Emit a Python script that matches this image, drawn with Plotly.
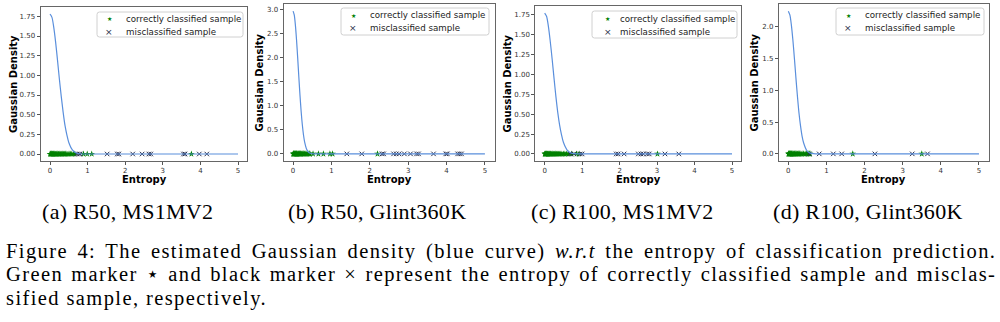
import plotly.graph_objects as go

# ---- Gaussian density curves (entropy -> density), one per model/dataset ----
curve_x_a = [0.0, 0.05, 0.1, 0.15, 0.2, 0.25, 0.3, 0.35, 0.4, 0.45, 0.5, 0.6, 0.7, 0.8, 1.0, 5.0]
curve_y_a = [1.78, 1.74, 1.61, 1.42, 1.19, 0.95, 0.73, 0.53, 0.36, 0.24, 0.147, 0.049, 0.0135, 0.003, 0.0, 0.0]

curve_x_b = [0.0, 0.03, 0.06, 0.09, 0.12, 0.15, 0.18, 0.21, 0.24, 0.27, 0.3, 0.36, 0.42, 0.5, 1.0, 5.0]
curve_y_b = [2.96, 2.88, 2.67, 2.36, 1.99, 1.59, 1.21, 0.88, 0.61, 0.40, 0.25, 0.084, 0.023, 0.003, 0.0, 0.0]

curve_x_c = [0.0, 0.05, 0.1, 0.15, 0.2, 0.25, 0.3, 0.35, 0.4, 0.45, 0.5, 0.6, 0.7, 0.8, 1.0, 5.0]
curve_y_c = [1.77, 1.73, 1.60, 1.41, 1.19, 0.95, 0.72, 0.52, 0.36, 0.24, 0.146, 0.049, 0.013, 0.003, 0.0, 0.0]

curve_x_d = [0.0, 0.04, 0.08, 0.12, 0.16, 0.2, 0.24, 0.28, 0.32, 0.36, 0.4, 0.48, 0.56, 0.65, 1.0, 5.0]
curve_y_d = [2.25, 2.19, 2.03, 1.79, 1.50, 1.19, 0.90, 0.64, 0.44, 0.28, 0.175, 0.057, 0.015, 0.003, 0.0, 0.0]

# ---- entropy of correctly classified samples ----
ok_a = [0.00, 0.01, 0.02, 0.03, 0.04, 0.05, 0.06, 0.07, 0.08, 0.09, 0.10, 0.12, 0.13, 0.15,
        0.16, 0.18, 0.19, 0.21, 0.23, 0.24, 0.26, 0.28, 0.30, 0.32, 0.34, 0.36, 0.38, 0.40,
        0.42, 0.45, 0.48, 0.51, 0.55, 0.58, 0.62, 0.66, 0.89, 0.99, 1.11, 3.76]
ok_b = [0.00, 0.01, 0.02, 0.03, 0.04, 0.05, 0.06, 0.07, 0.08, 0.09, 0.10, 0.11, 0.13, 0.14,
        0.16, 0.17, 0.19, 0.20, 0.22, 0.24, 0.26, 0.28, 0.30, 0.33, 0.36, 0.39, 0.42, 0.44,
        0.52, 0.66, 0.79, 0.96, 1.03, 2.20]
ok_c = [0.00, 0.01, 0.02, 0.03, 0.04, 0.05, 0.06, 0.07, 0.08, 0.09, 0.10, 0.12, 0.13, 0.15,
        0.16, 0.18, 0.20, 0.22, 0.24, 0.26, 0.28, 0.30, 0.32, 0.34, 0.37, 0.40, 0.43, 0.46,
        0.50, 0.54, 0.58, 0.63, 0.72, 0.85, 0.92, 3.01]
ok_d = [0.00, 0.01, 0.02, 0.03, 0.04, 0.05, 0.06, 0.07, 0.08, 0.09, 0.10, 0.12, 0.13, 0.15,
        0.16, 0.18, 0.20, 0.22, 0.24, 0.26, 0.28, 0.30, 0.33, 0.36, 0.40, 0.44, 0.48, 0.52,
        0.55, 0.57, 1.69, 3.50]

# ---- entropy of misclassified samples ----
err_a = [0.71, 0.76, 0.80, 1.52, 1.79, 1.83, 2.20, 2.45, 2.63, 2.68, 3.55, 3.59, 3.97, 4.17]
err_b = [1.40, 1.79, 2.32, 2.36, 2.62, 2.69, 2.76, 2.90, 3.06, 3.22, 3.27, 3.66, 3.98, 4.02,
         4.29, 4.34, 4.39]
err_c = [0.68, 0.78, 0.95, 1.00, 1.91, 1.96, 2.12, 2.50, 2.57, 2.63, 2.74, 2.79, 3.21, 3.58]
err_d = [0.55, 0.81, 1.18, 1.40, 2.27, 3.25, 3.65]

series_names = ["correctly classified sample", "misclassified sample"]
subcaptions = ["(a) R50, MS1MV2", "(b) R50, Glint360K", "(c) R100, MS1MV2", "(d) R100, Glint360K"]
y_ticks_a = [0, 0.25, 0.5, 0.75, 1.0, 1.25, 1.5, 1.75]
y_ticks_b = [0, 0.5, 1.0, 1.5, 2.0, 2.5, 3.0]
x_ticks = [0, 1, 2, 3, 4, 5]

W, H = 1000, 322
SANS = "DejaVu Sans"
SERIF = "Liberation Serif"
GREEN = "#008000"
CROSS = "#2a2f4a"


def px(x):
    return x / W


def py(y):
    return 1 - y / H


# frame of each panel in pixels (left, right, top, bottom), y-label x position,
# legend box (x0, x1, y0, y1), legend marker x, legend text x, legend row centres
panels = [
    dict(l=40.6, r=247.4, t=7, b=161, ylab=13, cx=curve_x_a, cy=curve_y_a, ok=ok_a, err=err_a,
         yt=y_ticks_a, fmt=".2f", box=(97, 243, 12, 37), mk=109, tx=124, rows=(19, 32)),
    dict(l=283.5, r=494.5, t=4, b=161, ylab=259, cx=curve_x_b, cy=curve_y_b, ok=ok_b, err=err_b,
         yt=y_ticks_b, fmt=".1f", box=(341, 489, 8, 35), mk=353, tx=368, rows=(15.3, 28.3)),
    dict(l=535.3, r=741.4, t=6, b=161, ylab=507, cx=curve_x_c, cy=curve_y_c, ok=ok_c, err=err_c,
         yt=y_ticks_a, fmt=".2f", box=(592, 737, 11, 38), mk=607.5, tx=618, rows=(18.7, 31.7)),
    dict(l=778.8, r=988.5, t=4, b=161, ylab=754, cx=curve_x_d, cy=curve_y_d, ok=ok_d, err=err_d,
         yt=y_ticks_b, fmt=".1f", box=(836, 984, 8, 35), mk=848, tx=863, rows=(15, 28.3)),
]


def rounded_box(x0, x1, y0, y1, r=2.5):
    """SVG path (paper coordinates) of a rectangle with slightly rounded corners."""
    rx, ry = r / W, r / H
    X0, X1, Y0, Y1 = px(x0), px(x1), py(y1), py(y0)
    return (f"M {X0 + rx} {Y0} L {X1 - rx} {Y0} Q {X1} {Y0} {X1} {Y0 + ry} "
            f"L {X1} {Y1 - ry} Q {X1} {Y1} {X1 - rx} {Y1} "
            f"L {X0 + rx} {Y1} Q {X0} {Y1} {X0} {Y1 - ry} "
            f"L {X0} {Y0 + ry} Q {X0} {Y0} {X0 + rx} {Y0} Z")


fig = go.Figure()
annotations = []
shapes = []
layout = {}

for i, p in enumerate(panels):
    n = "" if i == 0 else str(i + 1)
    xa, ya = "x" + n, "y" + n

    fig.add_trace(go.Scatter(
        x=p["ok"], y=[0] * len(p["ok"]), xaxis=xa, yaxis=ya, mode="markers",
        name=series_names[0], showlegend=False,
        marker=dict(symbol="star", size=5, color=GREEN, line=dict(width=0)),
    ))
    fig.add_trace(go.Scatter(
        x=p["err"], y=[0] * len(p["err"]), xaxis=xa, yaxis=ya, mode="markers",
        name=series_names[1], showlegend=False,
        marker=dict(symbol="x-thin", size=4.5, line=dict(width=1, color=CROSS)),
    ))
    fig.add_trace(go.Scatter(
        x=p["cx"], y=p["cy"], xaxis=xa, yaxis=ya, mode="lines", showlegend=False,
        line=dict(color="#5a8fdc", width=1.2, shape="spline", smoothing=0.8),
    ))

    ymax = max(p["cy"])
    pad = 0.05 * ymax
    axis_common = dict(
        showline=True, mirror=True, linecolor="#666", linewidth=1,
        ticks="outside", ticklen=3, tickcolor="#555", tickwidth=1,
        showgrid=False, zeroline=False,
        tickfont=dict(family=SANS, size=7, color="#333"),
    )
    layout["xaxis" + n] = dict(
        domain=[px(p["l"]), px(p["r"])], anchor=ya, range=[-0.25, 5.25],
        tickvals=x_ticks, **axis_common,
    )
    layout["yaxis" + n] = dict(
        domain=[py(p["b"]), py(p["t"])], anchor=xa, range=[-pad, ymax + pad],
        tickvals=p["yt"], tickformat=p["fmt"], **axis_common,
    )

    # axis labels
    annotations.append(dict(
        x=px(p["ylab"]), y=py((p["t"] + p["b"]) / 2), xref="paper", yref="paper",
        xanchor="center", yanchor="middle",
        text="<b>Gaussian Density</b>", textangle=-90, showarrow=False,
        font=dict(family=SANS, size=10, color="#000"),
    ))
    annotations.append(dict(
        x=px((p["l"] + p["r"]) / 2), y=py(179.5), xref="paper", yref="paper",
        xanchor="center", yanchor="middle",
        text="<b>Entropy</b>", showarrow=False,
        font=dict(family=SANS, size=10, color="#000"),
    ))

    # legend: framed box, marker glyph and series name per row
    bx0, bx1, by0, by1 = p["box"]
    shapes.append(dict(
        type="path", xref="paper", yref="paper", path=rounded_box(bx0, bx1, by0, by1),
        line=dict(color="#d0d0d0", width=1), fillcolor="rgba(255,255,255,0.85)", layer="above",
    ))
    for row_y, name, glyph, gcolor, gsize in zip(
            p["rows"], series_names, ["\u2605", "\u00d7"], [GREEN, CROSS], [6, 9]):
        annotations.append(dict(
            x=px(p["mk"]), y=py(row_y), xref="paper", yref="paper", xanchor="center",
            yanchor="middle", text=glyph, showarrow=False,
            font=dict(family=SANS, size=gsize, color=gcolor),
        ))
        annotations.append(dict(
            x=px(p["tx"]), y=py(row_y), xref="paper", yref="paper", xanchor="left",
            yanchor="middle", text=name, showarrow=False,
            font=dict(family=SANS, size=8.7, color="#222"),
        ))

# sub-figure captions
for cx, txt in zip([127, 377, 622, 868], subcaptions):
    annotations.append(dict(
        x=px(cx), y=py(211), xref="paper", yref="paper", xanchor="center", yanchor="middle",
        text='<span style="letter-spacing:0.3px">' + txt + "</span>", showarrow=False,
        font=dict(family=SERIF, size=22, color="#000"),
    ))

# figure caption, three lines; the first two are spread to the full text width
caption_lines = [
    "Figure 4: The estimated Gaussian density (blue curve) <i>w.r.t</i> the entropy of classification prediction.",
    "Green marker \u22c6 and black marker \u00d7 represent the entropy of correctly classified sample and misclas-",
    "sified sample, respectively.",
]
caption_y = [251, 274.5, 298]
caption_spacing = [(1.4, 3.0), (1.4, 1.6), (1.4, 0.0)]
for yy, txt, (ls, ws) in zip(caption_y, caption_lines, caption_spacing):
    style = "letter-spacing:%.2fpx;word-spacing:%.2fpx" % (ls, ws)
    annotations.append(dict(
        x=px(5), y=py(yy), xref="paper", yref="paper", xanchor="left", yanchor="middle",
        text='<span style="%s">' % style + txt + "</span>", showarrow=False, borderpad=0,
        font=dict(family=SERIF, size=20.5, color="#000"),
    ))

fig.update_layout(
    width=W, height=H, margin=dict(l=0, r=0, t=0, b=0),
    paper_bgcolor="white", plot_bgcolor="white", showlegend=False,
    annotations=annotations, shapes=shapes, **layout,
)

fig.write_html("out.html")
